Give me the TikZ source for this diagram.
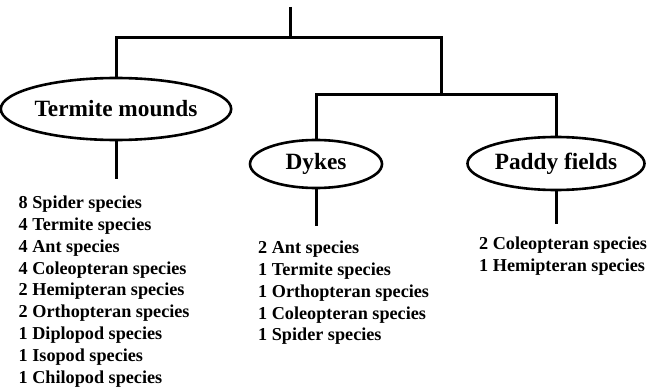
\documentclass[tikz,border=0pt]{standalone}
\usepackage{fontspec}
\setmainfont{Liberation Serif}
\usetikzlibrary{positioning, shapes.geometric}

\begin{document}
\begin{tikzpicture}[x=1pt, y=-1pt,
    habitat/.style={ellipse, draw, line width=2.6pt, inner sep=0pt,
        font=\fontsize{23.3}{26}\selectfont\bfseries},
    taxa/.style={align=left, inner sep=0pt, anchor=north west,
        font=\fontsize{18.2}{21.8}\selectfont\bfseries},
    link/.style={line width=3pt}]
    \useasboundingbox (0,0) rectangle (660,390);

    % 生境
    \node[habitat, minimum width=208pt, minimum height=62pt] (termite) at (116,109) {Termite mounds};
    \node[habitat, minimum width=132pt, minimum height=48pt] (dykes) at (316,164) {Dykes};
    \node[habitat, minimum width=177pt, minimum height=53pt] (paddy) at (556,163.5) {Paddy fields};

    % 分支点
    \coordinate (top) at (290,7);
    \coordinate (split) at (290,38);
    \coordinate (joint) at (441,38);
    \coordinate (fork) at (441,95);

    % 树形连线
    \draw[link] (top) -- (split);
    \draw[link] (termite.north) |- (joint) -- (fork);
    \draw[link] (dykes.north) |- (fork) -| (paddy.north);

    % 物种列表
    \draw[link] (termite.south) -- ++(0,38);
    \node[taxa] (tlist) at (18.5,195.8) {8 Spider species\\4 Termite species\\4 Ant species\\4 Coleopteran species\\2 Hemipteran species\\2 Orthopteran species\\1 Diplopod species\\1 Isopod species\\1 Chilopod species};

    \draw[link] (dykes.south) -- ++(0,37);
    \node[taxa] (dlist) at (258,240.8) {2 Ant species\\1 Termite species\\1 Orthopteran species\\1 Coleopteran species\\1 Spider species};

    \draw[link] (paddy.south) -- ++(0,33);
    \node[taxa] (plist) at (479,236.8) {2 Coleopteran species\\1 Hemipteran species};
\end{tikzpicture}
\end{document}
